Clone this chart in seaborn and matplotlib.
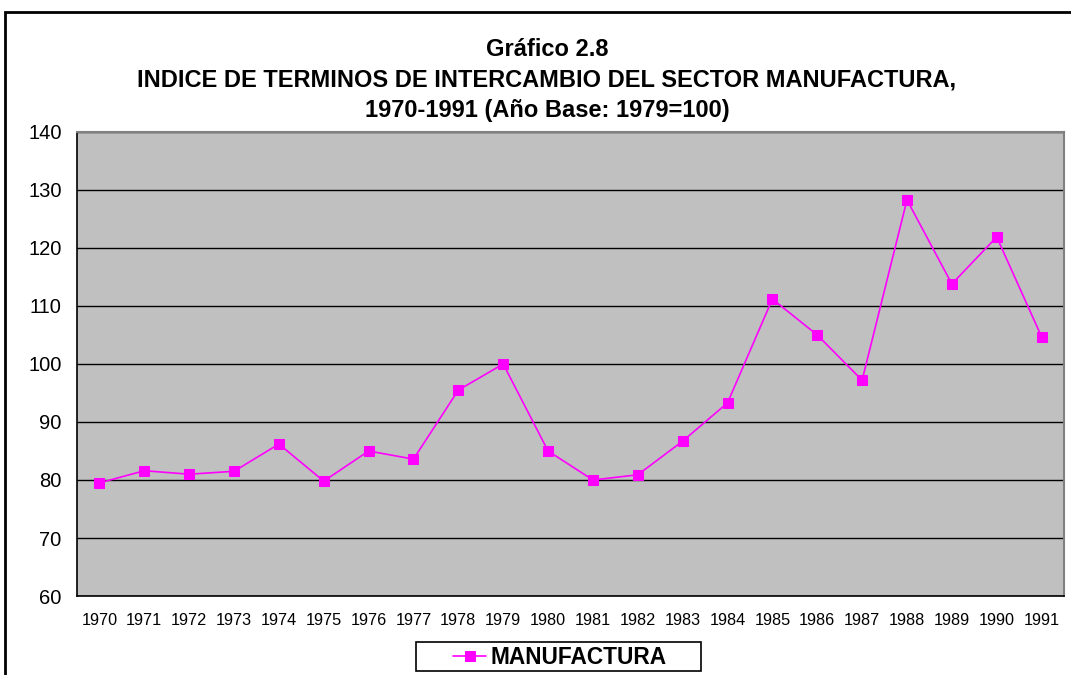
import matplotlib
matplotlib.use('Agg')
import matplotlib.pyplot as plt
import matplotlib.patches as mpatches
import seaborn as sns
import pandas as pd

# datos
anios = [str(a) for a in range(1970, 1992)]
manufactura = [79.5, 81.6, 81.0, 81.5, 86.2, 79.8, 85.0, 83.6, 95.5, 100.0, 85.0,
               80.0, 80.9, 86.7, 93.3, 111.2, 105.0, 97.2, 128.3, 113.8, 121.9, 104.7]
yticks = [60, 70, 80, 90, 100, 110, 120, 130, 140]

df = pd.DataFrame({'pos': range(len(anios)), 'valor': manufactura})

sns.set_style('white')
plt.rcParams['font.family'] = ['Liberation Sans', 'DejaVu Sans']
plt.rcParams['text.color'] = 'black'
plt.rcParams['xtick.color'] = 'black'
plt.rcParams['ytick.color'] = 'black'

fig = plt.figure(figsize=(10.71, 6.75), dpi=100)
ax = fig.add_axes([77/1071, 1-596/675, (1064-77)/1071, (596-132)/675])
ax.set_facecolor('#C0C0C0')

sns.lineplot(data=df, x='pos', y='valor', ax=ax, color='#FF00FF', linewidth=1.2,
             marker='s', markersize=7.5, markeredgecolor='#FF00FF', label='MANUFACTURA',
             legend=False)

ax.set_ylim(60, 140)
ax.set_yticks(yticks)
ax.set_yticklabels([str(v) for v in yticks], fontsize=14.5)
ax.set_xlim(-0.5, len(anios) - 0.5)
ax.set_xticks(range(len(anios)))
ax.set_xticklabels(anios, fontsize=11.7)
ax.set_xticks([i - 0.5 for i in range(len(anios) + 1)], minor=True)
ax.tick_params(axis='x', which='major', length=0, pad=12)
ax.tick_params(axis='x', which='minor', length=5, width=1, color='black', direction='out')
ax.tick_params(axis='y', length=5, width=1, color='black', direction='out', pad=6)
ax.set_xlabel('')
ax.set_ylabel('')
ax.grid(axis='y', color='black', linewidth=1)
ax.set_axisbelow(True)
for s in ['left', 'bottom']:
    ax.spines[s].set_color('black')
    ax.spines[s].set_linewidth(1.2)
for s in ['top', 'right']:
    ax.spines[s].set_color('#808080')
    ax.spines[s].set_linewidth(1.5)

titulo = ['Gráfico 2.8',
          'INDICE DE TERMINOS DE INTERCAMBIO DEL SECTOR MANUFACTURA,',
          '1970-1991 (Año Base: 1979=100)']
for i, t in enumerate(titulo):
    fig.text(547/1071, 1 - (49 + 31*i)/675, t, ha='center', va='center',
             fontsize=17, fontweight='bold')

# leyenda sin marco + caja aparte
h, l = ax.get_legend_handles_labels()
fig.legend(h, l, loc='center', bbox_to_anchor=(560/1071, 1-657/675),
           frameon=False, prop={'size': 16.3, 'weight': 'bold'},
           handlelength=1.45, handletextpad=0.2, borderpad=0, borderaxespad=0)
fig.patches.append(mpatches.Rectangle((416/1071, 1-671/675), 285/1071, 29/675,
                                      transform=fig.transFigure, fill=False,
                                      edgecolor='black', linewidth=1.2))

# marco exterior del grafico
fig.patches.append(mpatches.Rectangle((5/1071, -0.05), 1.1, 1-12/675+0.05,
                                      transform=fig.transFigure, fill=False,
                                      edgecolor='black', linewidth=2))

fig.savefig('out.png', dpi=100)
